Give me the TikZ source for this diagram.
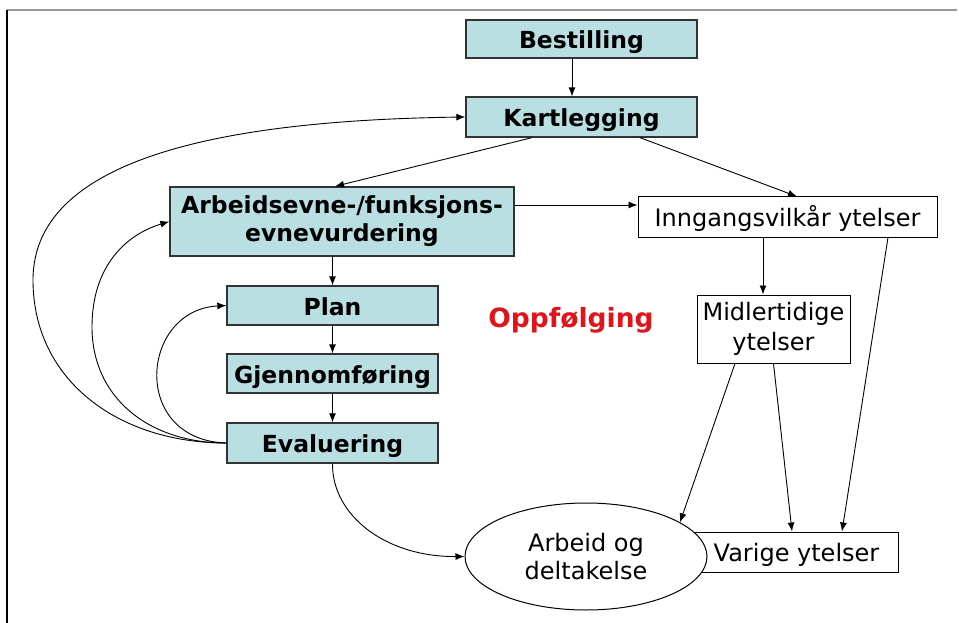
\documentclass[tikz,border=0pt]{standalone}
\usepackage{fontspec}
\setmainfont{DejaVu Sans}
\usetikzlibrary{arrows.meta,shapes.geometric}
\definecolor{boxfill}{HTML}{B9DFE3}
\definecolor{boxline}{HTML}{333333}
\definecolor{redtext}{HTML}{E0141B}
\tikzset{
  stage/.style={draw=boxline, line width=1.3pt, fill=boxfill, inner sep=0pt,
    align=center, font=\fontsize{23.5}{28}\selectfont\bfseries},
  oneline/.style={text height=19pt, text depth=0pt},
  plainbox/.style={draw=black, line width=1pt, fill=white, inner sep=0pt,
    align=center, font=\fontsize{24}{30}\selectfont},
  plainline/.style={text height=18pt, text depth=0pt},
  link/.style={line width=0.9pt, -{Latex[length=9pt,width=7pt]}},
}
\begin{document}
\begin{tikzpicture}[x=1pt,y=-1pt]
\useasboundingbox (0,0) rectangle (959,623);
% frame edges
\draw[gray!80, line width=1.2pt] (7,10) -- (957,10);
\draw[black, line width=2pt] (7,10) -- (7,623);

% left column of stages
\node[stage, oneline, minimum width=231pt, minimum height=38pt] (best) at (581.5,39) {Bestilling};
\node[stage, oneline, minimum width=231pt, minimum height=40pt] (kart) at (581.5,117) {Kartlegging};
\node[stage, minimum width=344pt, minimum height=69pt] (arb) at (342,221.5)
  {Arbeidsevne-/funksjons-\\evnevurdering};
\node[stage, oneline, minimum width=211pt, minimum height=39pt] (plan) at (332.5,305.5) {Plan};
\node[stage, oneline, minimum width=211pt, minimum height=39pt] (gjen) at (332.5,373.5) {Gjennomføring};
\node[stage, oneline, minimum width=211pt, minimum height=40pt] (eval) at (332.5,443) {Evaluering};

% right column
\node[plainbox, plainline, minimum width=299pt, minimum height=40pt] (inng) at (787.5,217) {Inngangsvilkår ytelser};
\node[plainbox, minimum width=153pt, minimum height=68pt] (midl) at (773.5,329) {Midlertidige\\ytelser};
\node[plainbox, plainline, minimum width=203pt, minimum height=40pt] (varig) at (796.5,552) {Varige ytelser};
\node[ellipse, draw=black, line width=1pt, fill=white, inner sep=0pt,
  minimum width=242pt, minimum height=107pt, align=center,
  font=\fontsize{24}{28}\selectfont] (arbeid) at (586,556.5) {Arbeid og\\deltakelse};

\node[text=redtext, text height=18pt, text depth=0pt,
  font=\fontsize{26.5}{30}\selectfont\bfseries] (oppf) at (571,318) {Oppfølging};

% connectors
\draw[link] ([xshift=-9.5pt]best.south) -- ([xshift=-9.5pt]kart.north);
\draw[link] ([xshift=-49.5pt]kart.south) -- ([xshift=-7pt]arb.north);
\draw[link] ([xshift=58.5pt]kart.south) -- ([xshift=9.5pt]inng.north);
\draw[link] ([yshift=16.5pt]arb.east) -- ([yshift=12pt]inng.west);
\draw[link] (arb.south -| plan.north) -- (plan.north);
\draw[link] (plan.south) -- (gjen.north);
\draw[link] (gjen.south) -- (eval.north);
\draw[link] ([xshift=-24.5pt]inng.south) -- ([xshift=-10.5pt]midl.north);
\draw[link] ([xshift=100.5pt]inng.south) -- ([xshift=45.5pt]varig.north);
\draw[link] ([xshift=-38.5pt]midl.south) -- (arbeid.20.6);
\draw[link] (midl.south) -- ([xshift=-4.5pt]varig.north);
\draw[link] (eval.south) .. controls (332,515) and (385,557) .. (arbeid.west);

% feedback loops from the evaluation back up
\draw[link] (eval.west) .. controls (118,443) and (33,380) .. (33,280)
  .. controls (33,150) and (250,120) .. (kart.west);
\draw[link] (eval.west) .. controls (148,443) and (92,397) .. (92,327)
  .. controls (92,267) and (125,235) .. (arb.west);
\draw[link] (eval.west) .. controls (130,440) and (140,310) .. (plan.west);
\end{tikzpicture}
\end{document}
